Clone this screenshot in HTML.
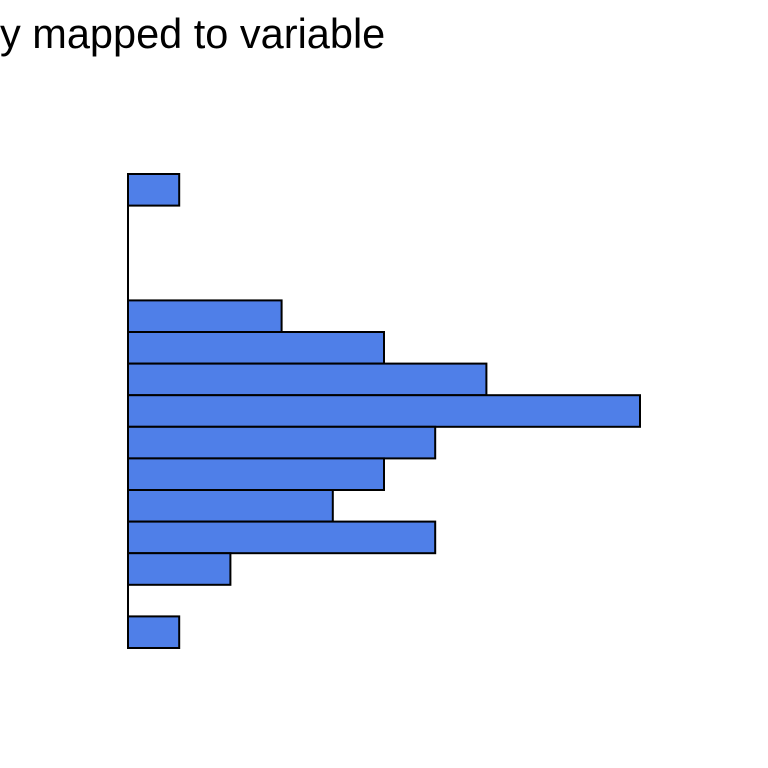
<!DOCTYPE html>
<html><head><meta charset="utf-8"><style>html,body{margin:0;padding:0;background:#fff;width:768px;height:768px;overflow:hidden}</style></head>
<body>
<svg id="chart" width="768" height="768" xmlns="http://www.w3.org/2000/svg">
<rect width="768" height="768" fill="#fff"/>
<text x="0" y="48" font-family="Liberation Sans, sans-serif" font-size="41.5" fill="#000">y mapped to variable</text>
<g id="bars"></g>
</svg>
<script>
const bins = [1,2,3,4,5,6,7,8,9,10,11,12,13,14,15];
const counts = [1,0,0,0,3,5,7,10,6,5,4,6,2,0,1];
const x0 = 128, pxPerCount = 51.2, yTop = 174, binH = 31.6;
function xScale(v){return x0 + v*pxPerCount;}
function yScale(i){return yTop + i*binH;}
const g = document.getElementById('bars');
const ns = 'http://www.w3.org/2000/svg';
const nBins = counts.length;
for (let i=0;i<nBins;i++){
  const r = document.createElementNS(ns,'rect');
  
  
  r.setAttribute('x',x0);
  r.setAttribute('y',yScale(i));
  r.setAttribute('width',xScale(counts[i])-x0);
  r.setAttribute('height',binH);
  r.setAttribute('fill','#4f7fe8');
  r.setAttribute('stroke','#000');
  r.setAttribute('stroke-width','2');
  g.appendChild(r);
}
const ln = document.createElementNS(ns,'line');


ln.setAttribute('x1',x0);ln.setAttribute('x2',x0);
ln.setAttribute('y1',yScale(0));ln.setAttribute('y2',yScale(nBins));
ln.setAttribute('stroke','#000');ln.setAttribute('stroke-width','2');
g.appendChild(ln);
</script>
</body></html>
